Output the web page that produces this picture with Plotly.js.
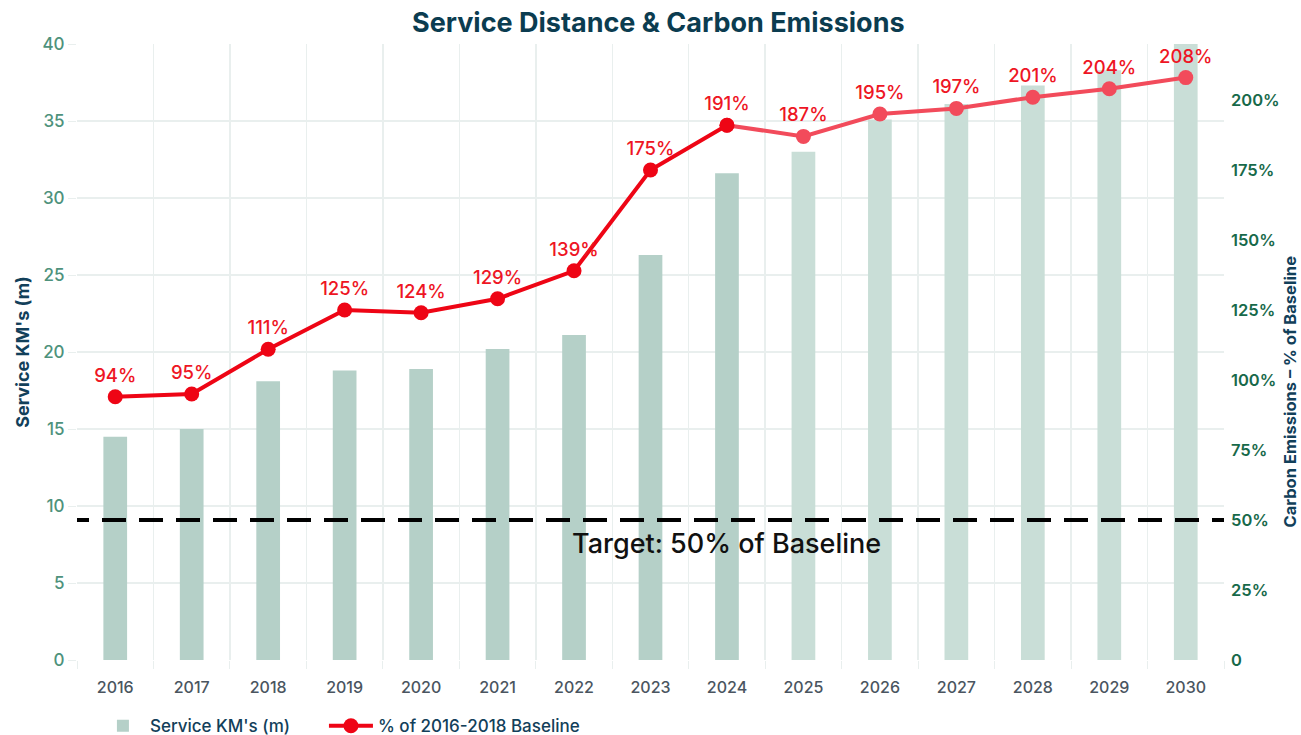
<!DOCTYPE html>
<html>
<head>
<meta charset="utf-8">
<script src="https://cdn.plot.ly/plotly-3.0.1.min.js"></script>
<style>html,body{margin:0;padding:0;background:#fff;}#chart{width:1301px;height:735px;}</style>
</head>
<body>
<div id="chart"></div>
<script>
var years = ["2016","2017","2018","2019","2020","2021","2022","2023","2024","2025","2026","2027","2028","2029","2030"];
var serviceKm = [14.5, 15.0, 18.1, 18.8, 18.9, 20.2, 21.1, 26.3, 31.6, 33.0, 35.1, 36.1, 37.3, 38.3, 40.0];
var actualYears = ["2016","2017","2018","2019","2020","2021","2022","2023","2024"];
var actualPct = [94, 95, 111, 125, 124, 129, 139, 175, 191];
var projYears = ["2024","2025","2026","2027","2028","2029","2030"];
var projPct = [191, 187, 195, 197, 201, 204, 208];
var projLabels = ["", "187%", "195%", "197%", "201%", "204%", "208%"];
var targetPct = 50;
var targetLabel = "Target: 50% of Baseline";
var rightTickVals = [0, 25, 50, 75, 100, 125, 150, 175, 200];
var rightTickText = ["0", "25%", "50%", "75%", "100%", "125%", "150%", "175%", "200%"];

var barColors = years.map(function(y){ return parseInt(y) <= 2024 ? "#b5d0c8" : "#c9ded7"; });
var FONT = "Inter, 'Noto Sans', sans-serif";
var DARK_RED = "#ee0515";
var LIGHT_RED = "#f24b5b";
var LABEL_RED = "#ee1524";

// dash pattern starting with a half dash, like the reference
var dashParts = ["12px", "13px"];
for (var i = 0; i < 32; i++) { dashParts.push("24px", "13px"); }
var dashStr = dashParts.join(",");

var traces = [
  {
    type: "bar", x: years, y: serviceKm, name: "Service KM's (m)",
    marker: {color: barColors}, yaxis: "y", hoverinfo: "skip", legend: "legend"
  },
  {
    type: "scatter", mode: "lines+markers+text", x: projYears, y: projPct, yaxis: "y2",
    text: projLabels, textposition: "top center",
    textfont: {color: LABEL_RED, size: 18.5, family: FONT, weight: 500},
    line: {color: LIGHT_RED, width: 4}, marker: {color: LIGHT_RED, size: 15},
    showlegend: false, hoverinfo: "skip", cliponaxis: false
  },
  {
    type: "scatter", mode: "lines+markers+text", x: actualYears, y: actualPct, yaxis: "y2",
    name: "% of 2016-2018 Baseline", legend: "legend2",
    text: actualPct.map(function(v){ return v + "%"; }), textposition: "top center",
    textfont: {color: LABEL_RED, size: 18.5, family: FONT, weight: 500},
    line: {color: DARK_RED, width: 4}, marker: {color: DARK_RED, size: 15},
    hoverinfo: "skip", cliponaxis: false
  }
];

var gridC = "#e9efee";
var legendFont = {size: 17, color: "#12405a", family: FONT, weight: 500};
var layout = {
  width: 1301, height: 735,
  margin: {l: 77, r: 77, t: 44, b: 75},
  paper_bgcolor: "#fff", plot_bgcolor: "#fff",
  font: {family: FONT},
  title: {
    text: "<b>Service Distance & Carbon Emissions</b>",
    font: {size: 27, color: "#0b3c50", family: FONT},
    x: 0.506, xanchor: "center", y: 0.97, yanchor: "middle", yref: "container"
  },
  xaxis: {
    type: "category", range: [-0.5, years.length - 0.5],
    tickson: "boundaries", ticks: "outside", ticklen: 8, tickcolor: gridC,
    showgrid: true, gridcolor: gridC, gridwidth: 1.5,
    tickfont: {size: 16, color: "#4a5560", family: FONT, weight: 500},
    ticklabelstandoff: 16,
    tickangle: 0, showline: false, zeroline: false
  },
  yaxis: {
    range: [0, 40], dtick: 5, ticks: "outside", ticklen: 8, tickcolor: gridC,
    showgrid: true, gridcolor: gridC, gridwidth: 2, zeroline: false,
    tickfont: {size: 17, color: "#4e927c", family: FONT, weight: 500},
    title: {text: "<b>Service KM's (m)</b>", font: {size: 18, color: "#12405a", family: FONT}, standoff: 8}
  },
  yaxis2: {
    overlaying: "y", side: "right", range: [0, 220],
    tickvals: rightTickVals, ticktext: rightTickText,
    showgrid: false, zeroline: false, ticks: "",
    ticklabelstandoff: 6,
    tickfont: {size: 16.5, color: "#17694a", family: FONT, weight: 600}
  },
  shapes: [{
    type: "line", xref: "paper", x0: 0, x1: 1, yref: "y2", y0: targetPct, y1: targetPct,
    line: {color: "#000", width: 4, dash: dashStr}, layer: "above"
  }],
  annotations: [
    {
      text: targetLabel, x: years.indexOf("2024"), xref: "x", y: targetPct, yref: "y2",
      yanchor: "top", yshift: -5, showarrow: false,
      font: {size: 27, color: "#111", family: FONT, weight: 500}
    },
    {
      text: "<b>Carbon Emissions – % of Baseline</b>", textangle: -90,
      xref: "paper", x: 1.058, xanchor: "center", yref: "paper", y: 0.435, yanchor: "middle",
      showarrow: false, font: {size: 16.5, color: "#12405a", family: FONT}
    }
  ],
  legend: {
    orientation: "h", x: 0.0165, xanchor: "left", y: 0.012, yanchor: "middle", yref: "container",
    itemwidth: 44, font: legendFont
  },
  legend2: {
    orientation: "h", x: 0.2153, xanchor: "left", y: 0.012, yanchor: "middle", yref: "container",
    itemwidth: 44, font: legendFont
  },
  bargap: 0.69,
  showlegend: true
};

Plotly.newPlot("chart", traces, layout, {displayModeBar: false, staticPlot: true});
</script>
</body>
</html>
